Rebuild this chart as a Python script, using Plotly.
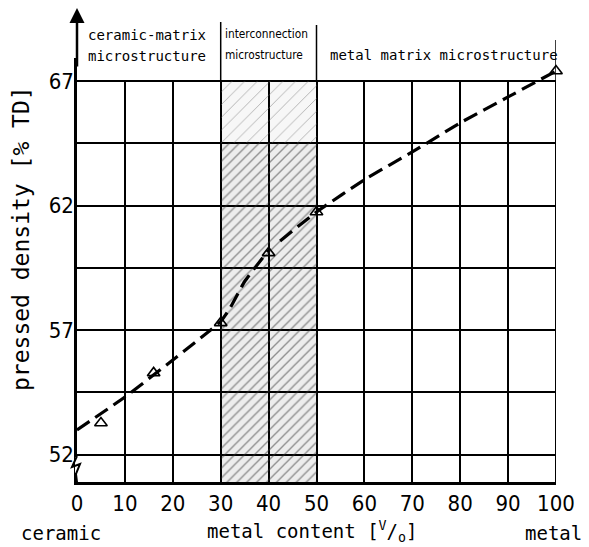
import plotly.graph_objects as go

# ---- data ----
pt_x = [5, 16, 30, 40, 50, 100]
pt_y = [53.27, 55.28, 57.29, 60.10, 61.74, 67.40]

curve1_x = [0, 10, 20, 30, 32, 35, 40]
curve1_y = [52.99, 54.31, 55.80, 57.35, 57.90, 58.95, 60.20]
curve2_x = [42.4, 50, 60.5, 70, 80, 90, 100]
curve2_y = [60.58, 61.74, 63.10, 64.15, 65.32, 66.36, 67.40]

region_x0, region_x1 = 30, 50
y_min, y_top = 50.9, 67
y_band = 64.5

x_ticks = [0, 10, 20, 30, 40, 50, 60, 70, 80, 90, 100]
y_grid = [52, 54.5, 57, 59.5, 62, 64.5, 67]
y_ticktext = ["52", "", "57", "", "62", "", "67"]

W, H = 589, 547
L, R, B = 77, 33, 65
TOP67 = 81                       # pixel row of y = 67
unit = (H - B - TOP67) / (y_top - y_min)
T = 58
y_max = y_top + (TOP67 - T) / unit
PW, PH = W - L - R, H - T - B


def px(xp):
    return (xp - L) / PW


def py(yp):
    return (H - B - yp) / PH


fig = go.Figure()

# shaded interconnection region (two bands)
fig.add_trace(go.Bar(
    x=[(region_x0 + region_x1) / 2], width=[region_x1 - region_x0],
    base=[y_min], y=[y_band - y_min],
    marker=dict(color="rgba(0,0,0,0.07)", line=dict(width=0),
                pattern=dict(shape="/", fgcolor="#333", bgcolor="rgba(0,0,0,0.07)",
                             size=7, solidity=0.2)),
    hoverinfo="skip", showlegend=False))
fig.add_trace(go.Bar(
    x=[(region_x0 + region_x1) / 2], width=[region_x1 - region_x0],
    base=[y_band], y=[y_top - y_band],
    marker=dict(color="rgba(0,0,0,0.03)", line=dict(width=0),
                pattern=dict(shape="/", fgcolor="#666", bgcolor="rgba(0,0,0,0.03)",
                             size=9, solidity=0.1)),
    hoverinfo="skip", showlegend=False))

for cx, cy in ((curve1_x, curve1_y), (curve2_x, curve2_y)):
    fig.add_trace(go.Scatter(x=cx, y=cy, mode="lines",
                             line=dict(color="black", width=3.2, dash="15px,7px", shape="spline", smoothing=0.4),
                             showlegend=False, hoverinfo="skip"))

fig.add_trace(go.Scatter(x=pt_x, y=pt_y, mode="markers", cliponaxis=False,
                         marker=dict(symbol="triangle-up-open", size=11, color="black",
                                     line=dict(width=1.6, color="black")),
                         showlegend=False))

tick_font = dict(family="DejaVu Sans Condensed, Liberation Sans, sans-serif", size=22, color="black")
title_font = dict(family="DejaVu Sans Mono, monospace", size=19, color="black")

fig.update_layout(
    width=W, height=H, margin=dict(l=L, r=R, t=T, b=B, autoexpand=False),
    plot_bgcolor="white", paper_bgcolor="white", barmode="overlay", bargap=0,
    xaxis=dict(range=[0, 100], tickvals=x_ticks, showgrid=True, gridcolor="black", gridwidth=1.5,
               showline=True, linecolor="black", linewidth=2.5, mirror=False, zeroline=False,
               ticks="", tickfont=tick_font, automargin=False),
    yaxis=dict(range=[y_min, y_max], tickvals=y_grid, ticktext=y_ticktext, showgrid=True,
               gridcolor="black", gridwidth=1.5, showline=True, linecolor="black", linewidth=2.5,
               mirror=False, zeroline=False, ticks="", tickfont=tick_font, automargin=False,
               ticklabelstandoff=-4),
)

shapes = []
# hide vertical gridlines above the y = 67 line
shapes.append(dict(type="rect", xref="x", yref="y", x0=0.3, x1=100, y0=y_top + 0.04, y1=y_max,
                   fillcolor="white", line=dict(width=0), layer="between"))
# right border
shapes.append(dict(type="line", xref="x", yref="y", x0=100, x1=100, y0=y_min, y1=y_top,
                   line=dict(color="black", width=2)))
# region separators extended above the plot
for xv, top in ((30, 22), (50, 25), (100, 40)):
    shapes.append(dict(type="line", xref="x", yref="paper", x0=xv, x1=xv, y0=py(TOP67), y1=py(top),
                       line=dict(color="black", width=1.5)))
# broken axis mark
shapes.append(dict(type="line", xref="paper", yref="paper", x0=0, x1=0, y0=py(457), y1=py(473),
                   line=dict(color="white", width=4)))
shapes.append(dict(type="path", xref="paper", yref="paper",
                   path=f"M {px(77)},{py(456)} L {px(72)},{py(467)} L {px(80)},{py(464)} L {px(76)},{py(474)} L {px(77)},{py(482)}",
                   line=dict(color="black", width=2)))
fig.update_layout(shapes=shapes)

ann = []
ann.append(dict(x=0, xref="x", y=py(8), yref="paper", text="", showarrow=True,
                ax=0, ay=60, arrowhead=2, arrowsize=1.2, arrowwidth=2.5, arrowcolor="black"))
hdr = dict(family="DejaVu Sans Mono, monospace", size=14, color="black")
for txt, xx, yy in (("ceramic-matrix", 86, 35), ("microstructure", 86, 56),
                    ("metal matrix microstructure", 328, 55)):
    ann.append(dict(x=px(xx), y=py(yy), xref="paper", yref="paper", xanchor="left", yanchor="middle",
                    text=txt, showarrow=False, font=hdr))
ihdr = dict(family="DejaVu Sans Condensed, Liberation Sans, sans-serif", size=11.8, color="black")
for txt, yy in (("interconnection", 34), ("microstructure", 55)):
    ann.append(dict(x=px(223), y=py(yy), xref="paper", yref="paper", xanchor="left", yanchor="middle",
                    text=txt, showarrow=False, font=ihdr))
ann.append(dict(x=px(21), y=py(239), xref="paper", yref="paper", xanchor="center", yanchor="middle",
                text="pressed density [% TD]", textangle=-90, showarrow=False,
                font=dict(family="DejaVu Sans Mono, monospace", size=23, color="black")))
ann.append(dict(x=px(61), y=py(533), xref="paper", yref="paper", xanchor="center", yanchor="middle",
                text="ceramic", showarrow=False, font=title_font))
ann.append(dict(x=px(312), y=py(531), xref="paper", yref="paper", xanchor="center", yanchor="middle",
                text="metal content [<sup>V</sup>/<sub>o</sub>]", showarrow=False, font=title_font))
ann.append(dict(x=px(553), y=py(533), xref="paper", yref="paper", xanchor="center", yanchor="middle",
                text="metal", showarrow=False, font=title_font))
fig.update_layout(annotations=ann)

fig.write_html("out.html")
